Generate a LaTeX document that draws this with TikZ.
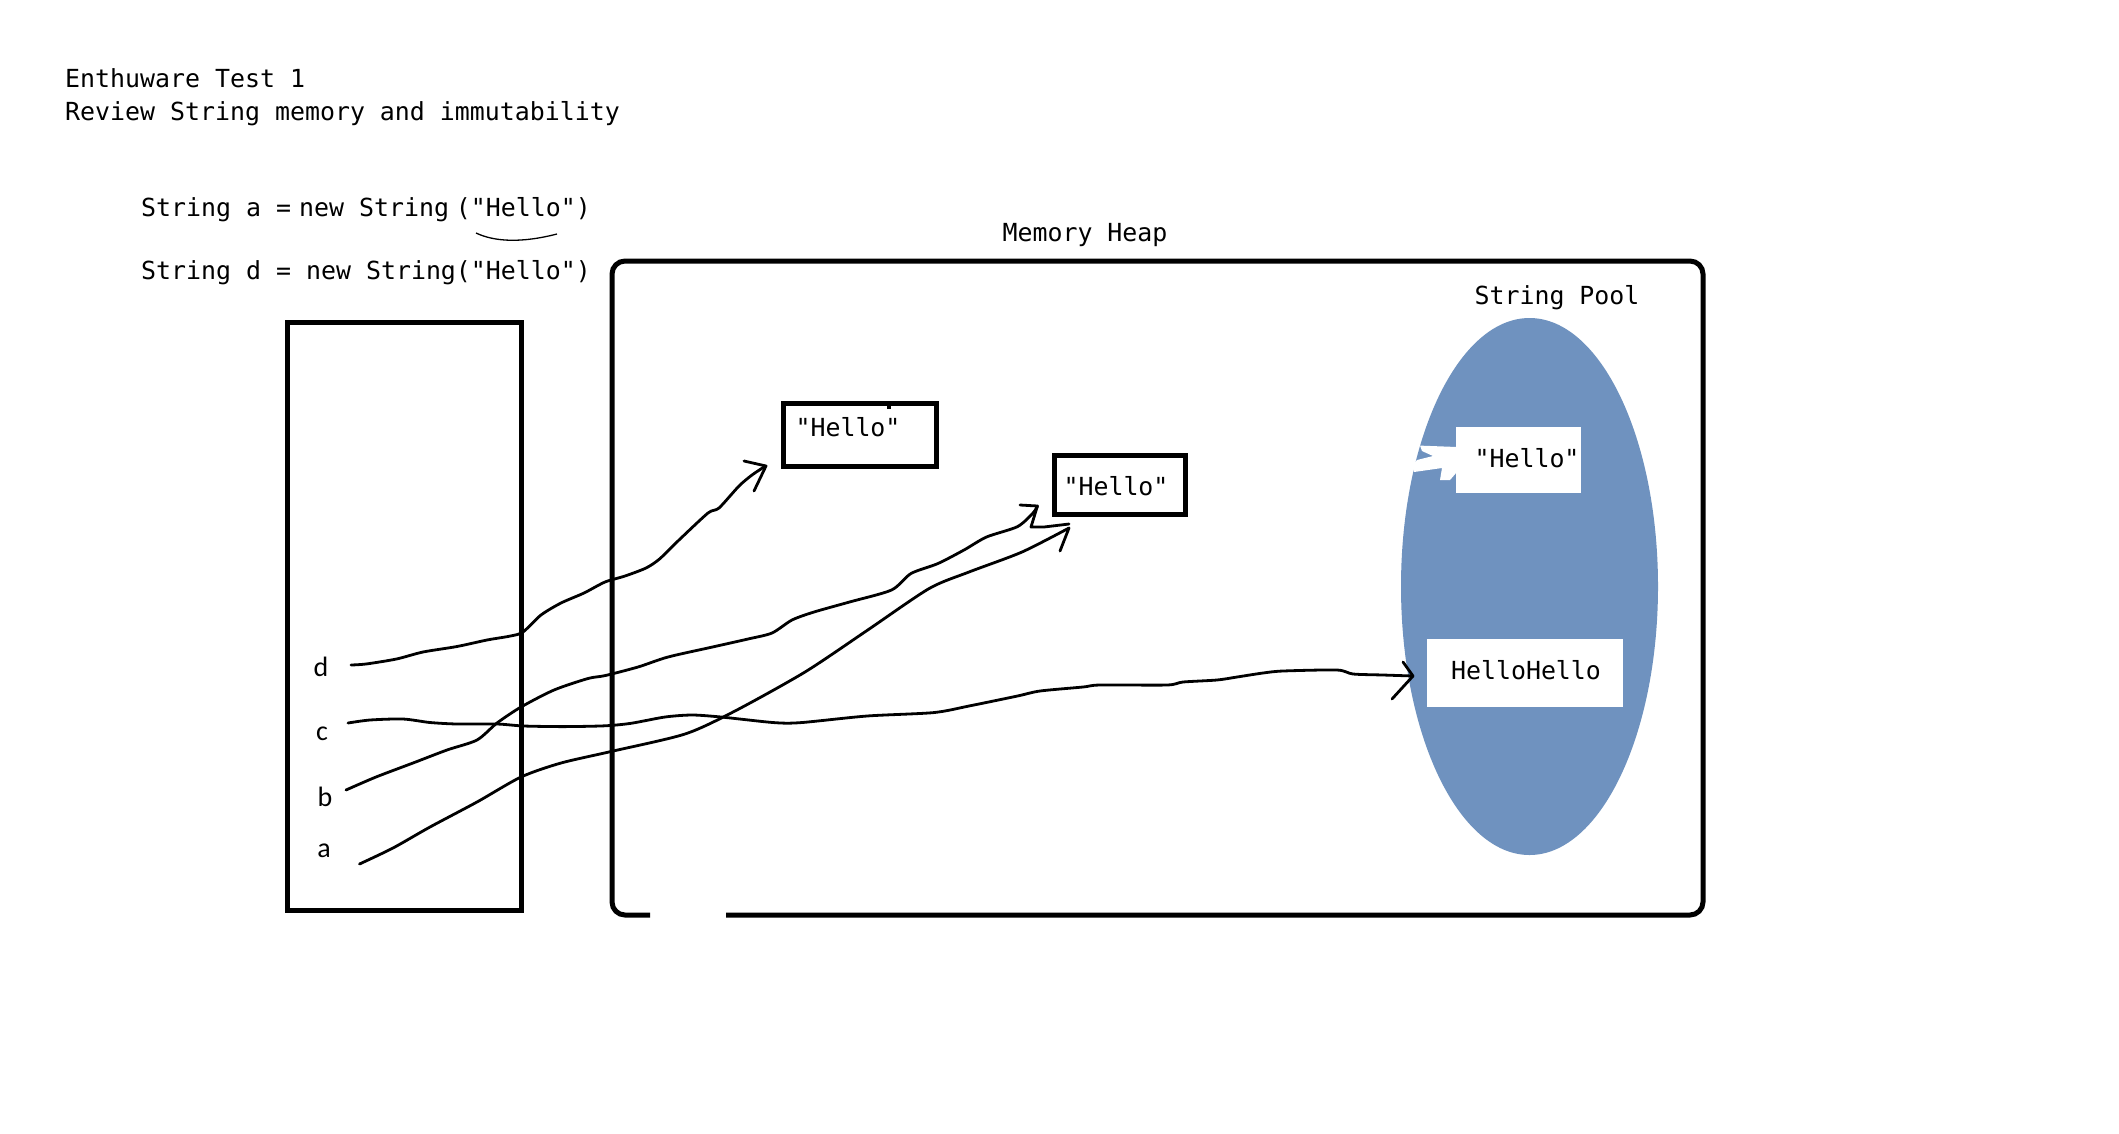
\documentclass[tikz,border=0pt]{standalone}
\usepackage{fontspec}
\usetikzlibrary{shapes.geometric}
\newfontfamily\monof{DejaVu Sans Mono}
\newfontfamily\calib{Carlito}
\definecolor{poolblue}{RGB}{111,146,191}
\begin{document}
\begin{tikzpicture}[x=1pt,y=-1pt,
  mono/.style={font=\fontsize{24.9}{29}\selectfont\monof, inner sep=0pt},
  lbl/.style={font=\fontsize{28}{32}\selectfont\calib, inner sep=0pt},
  frame/.style={draw, line width=5pt, inner sep=0pt},
  wbox/.style={fill=white, inner sep=0pt},
  hand/.style={line width=2.8pt, line cap=round, line join=round},
]
\useasboundingbox[fill=white] (0,0) rectangle (2119,1133);

% titles and code
\node[mono, anchor=base west] (t1) at (65,87) {Enthuware Test 1};
\node[mono, anchor=base west] (t2) at (65,120) {Review String memory and immutability};
\node[mono, anchor=base west] (sa) at (141,216) {String a =\hspace{8pt}new String\hspace{7pt}("Hello")};
\node[mono, anchor=base west] (sd) at (141,279) {String d = new String("Hello")};
\draw[line width=1.3pt] (476,233) .. controls (495,242) and (522,243) .. (557,234);

% stack box and labels
\node[frame, minimum width=234pt, minimum height=588pt] (stack) at (404,616) {};
\node[lbl] (ld) at (321,667) {d};
\node[lbl] (lc) at (322,734) {c};
\node[lbl] (lb) at (325,797) {b};
\node[lbl] (la) at (324,851) {a};

% heap
\node[mono, anchor=base] (mh) at (1085,241) {Memory Heap};
\draw[line width=5pt, rounded corners=13pt] (726,915) -- (1703,915) -- (1703,261) -- (612,261) -- (612,915) -- (650,915);

% heap objects
\node[frame, minimum width=153pt, minimum height=63pt] (h1) at (859.5,434.5) {};
\fill (887,401) rectangle (891,409);
\node[mono, anchor=base] (h1t) at (848,436) {"Hello"};
\node[frame, minimum width=131pt, minimum height=59pt] (h2) at (1119.5,484.5) {};
\node[mono, anchor=base] (h2t) at (1116,495) {"Hello"};

% string pool
\node[mono, anchor=base] (sp) at (1557,304) {String Pool};
\node[ellipse, fill=poolblue, inner sep=0pt, minimum width=257pt, minimum height=537pt] (pool) at (1529.5,586.5) {};
\fill[white] (1420,445.6) -- (1457,447) -- (1457,472) -- (1450,480) -- (1440,480) -- (1442,468) -- (1414,472) -- (1412,466) -- (1417,460) -- (1433,456) -- (1422,451) -- cycle;
\node[wbox, minimum width=125pt, minimum height=66pt] (ph) at (1518.5,460) {};
\node[mono, anchor=base] (pht) at (1527,467) {"Hello"};
\node[wbox, minimum width=196pt, minimum height=68pt] (hh) at (1525,673) {};
\node[mono, anchor=base] (hht) at (1526,679) {HelloHello};

% references
\coordinate (ds) at (351,665);
\coordinate (cs) at (348,723);
\coordinate (bs) at (346,790);
\coordinate (as) at (359.5,864);
\draw[hand] plot[smooth, tension=0.45] coordinates {(ds) (366,664) (396.5,659) (423,652) (457,646.5) (487,640) (510.5,636) (523,632) (541,615) (561,603) (584,593) (605,582) (625,576) (646,568) (659.5,559) (679,540) (708,513) (719,508) (739,486) (752,475) (765.5,466)};
\draw[hand] (744,461) -- (766,466) -- (754,491);

\draw[hand] plot[smooth, tension=0.45] coordinates {(cs) (370,720) (403,719) (430,722.5) (457,724) (497,724) (524,726) (564,726.6) (605,725.8) (631,723.3) (665,717) (692,715) (721,717) (774,722.6) (801,722.6) (867,716) (933.5,712.6) (969,706) (1017.5,696) (1040,691) (1083,687) (1100,685) (1167,685) (1183,682) (1217,680) (1237,677) (1263,673) (1283,671) (1337,670) (1353,674) (1383,675) (1413,676)};
\draw[hand] (1403,662) -- (1413,676) -- (1392,699);

\draw[hand] plot[smooth, tension=0.45] coordinates {(bs) (376,777) (413,763) (447,750) (477,740) (497,723) (521,707) (554,690) (588,678.5) (605,675.6) (638,667) (668,657) (712.5,647) (748,639) (772,633) (792,620) (814,612) (849.5,602) (891.5,590) (911,573.5) (938,563.5) (964,550) (986.5,537) (1017.5,526.6) (1033,513) (1037.4,506)};
\draw[hand] (1020,505) -- (1037.4,506) -- (1031,527) -- (1044,527) -- (1069,524);

\draw[hand] plot[smooth, tension=0.45] coordinates {(as) (393,848) (430,827) (477,802) (521,777) (561,763) (611,751.5) (685,734) (735,711) (805,672) (867,630.5) (929,588.6) (969,572) (1022,552) (1069,528)};
\draw[hand] (1069,528) -- (1060,551);
\end{tikzpicture}
\end{document}
